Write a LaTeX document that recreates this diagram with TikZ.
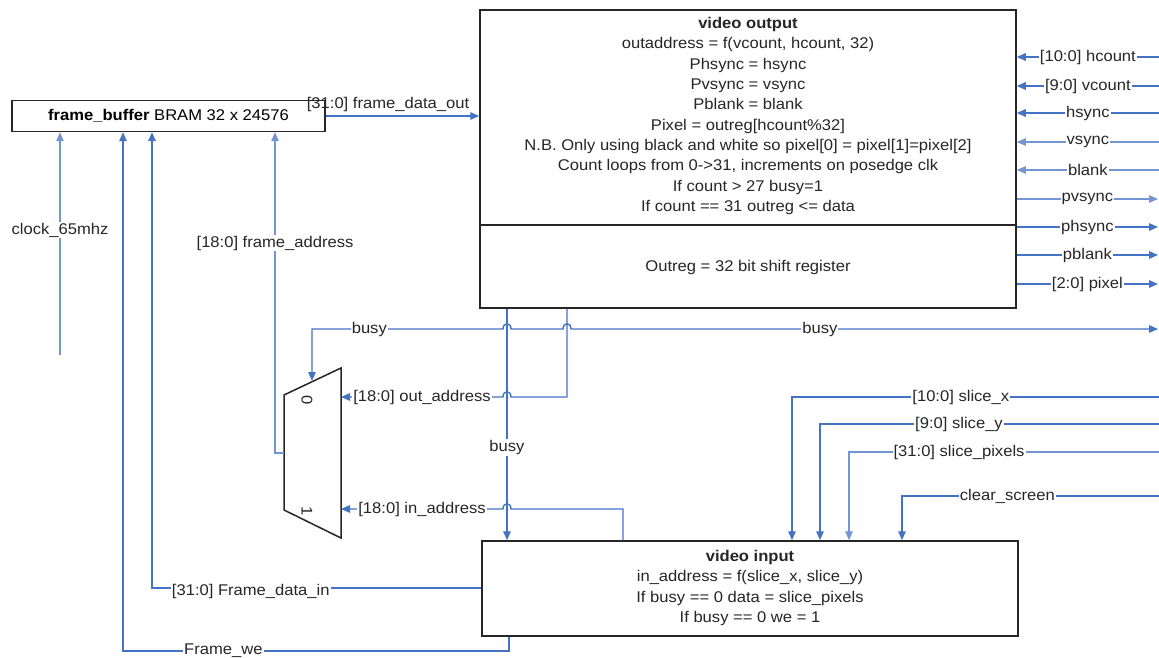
\documentclass[tikz,border=0pt]{standalone}
\usepackage{fontspec}
\setmainfont{Liberation Sans}[FakeStretch=1.07]
\usetikzlibrary{arrows.meta}
\definecolor{sigblue}{RGB}{68,114,196}
\begin{document}
\begin{tikzpicture}[x=1pt,y=-1pt,
  >={Triangle[length=9pt,width=7.5pt]},
  sig/.style={draw=sigblue,line width=1.4pt},
  light/.style={draw=sigblue!75,line width=1.1pt},
  blk/.style={draw=black!85,line width=1.5pt,fill=white,inner sep=0pt},
  lbl/.style={fill=white,inner sep=1pt,text=black!85,font=\fontsize{15.5}{18}\selectfont},
  txt/.style={align=center,inner sep=0pt,text=black!85,font=\fontsize{15.5}{20.3}\selectfont}]
\useasboundingbox (0,0) rectangle (1159,658);

% blocks
\node[blk,minimum width=313pt,minimum height=31pt,font=\fontsize{15.5}{18}\selectfont] (fb) at (168.5,116) {\textbf{frame\_buffer} BRAM 32 x 24576};
\node[blk,minimum width=536pt,minimum height=298pt] (vo) at (748,159) {};
\coordinate (divy) at (0,225);
\draw[draw=black!85,line width=1.5pt] (vo.west |- divy) -- (vo.east |- divy);
\node[txt] (vot) at (748,116) {\textbf{video output}\\outaddress = f(vcount, hcount, 32)\\Phsync = hsync\\Pvsync = vsync\\Pblank = blank\\Pixel = outreg[hcount\%32]\\N.B. Only using black and white so pixel[0] = pixel[1]=pixel[2]\\Count loops from 0->31, increments on posedge clk\\If count > 27 busy=1\\If count == 31 outreg <= data};
\node[txt] (vos) at (748,267) {Outreg = 32 bit shift register};

\node[blk,minimum width=536pt,minimum height=95pt] (vi) at (750,588.5) {};
\node[txt] (vit) at (750,588) {\textbf{video input}\\in\_address = f(slice\_x, slice\_y)\\If busy == 0 data = slice\_pixels\\If busy == 0 we = 1};

% mux
\coordinate (m1) at (284,395);
\coordinate (m2) at (341,368);
\coordinate (m3) at (341,538);
\coordinate (m4) at (284,510);
\draw[draw=black!85,line width=1.5pt,fill=white] (m1) -- (m2) -- (m3) -- (m4) -- cycle;
\node[txt,rotate=-90] (mz) at (307,400) {0};
\node[txt,rotate=-90] (mo) at (307,511) {1};
\coordinate (muxsel) at (312,381);
\coordinate (mux0in) at (341,397);
\coordinate (mux1in) at (341,509);
\coordinate (muxout) at (284,453);

% right-side inputs to video output
\coordinate (hcin) at (1159,57);
\coordinate (vcin) at (1159,86);
\coordinate (hsin) at (1159,113);
\coordinate (vsin) at (1159,142);
\coordinate (blin) at (1159,170);
\draw[sig,->] (hcin) -- node[lbl]{[10:0] hcount} (vo.east |- hcin);
\draw[sig,->] (vcin) -- node[lbl]{[9:0] vcount} (vo.east |- vcin);
\draw[sig,->] (hsin) -- node[lbl]{hsync} (vo.east |- hsin);
\draw[light,->] (vsin) -- node[lbl]{vsync} (vo.east |- vsin);
\draw[light,->] (blin) -- node[lbl]{blank} (vo.east |- blin);

% right-side outputs
\coordinate (pvout) at (1158,199);
\coordinate (phout) at (1158,227);
\coordinate (pbout) at (1158,255);
\coordinate (pxout) at (1158,284);
\draw[light,->] (vo.east |- pvout) -- node[lbl]{pvsync} (pvout);
\draw[sig,->] (vo.east |- phout) -- node[lbl]{phsync} (phout);
\draw[sig,->] (vo.east |- pbout) -- node[lbl]{pblank} (pbout);
\draw[sig,->] (vo.east |- pxout) -- node[lbl]{[2:0] pixel} (pxout);

% frame_data_out
\draw[sig,->] (fb.east) -- (vo.west |- fb.east);
\node[lbl,fill=none] (fdo) at (388,104) {[31:0] frame\_data\_out};

% busy line with hops
\coordinate (busyR) at (1158,329);
\draw[sig,<->] (muxsel) -- (312,329) -- node[lbl,pos=0.3]{busy} (503,329)
  .. controls (503,322) and (511,322) .. (511,329) -- (563,329)
  .. controls (563,322) and (571,322) .. (571,329) -- node[lbl,pos=0.424]{busy} (busyR);

% busy down to video input
\coordinate (bx) at (507,0);
\draw[sig,->] (vo.south -| bx) -- node[lbl,pos=0.6]{busy} (vi.north -| bx);

% out_address
\coordinate (oax) at (567,0);
\draw[sig,->] (vo.south -| oax) -- (567,397) -- (511,397)
  .. controls (511,390) and (503,390) .. (503,397) -- node[lbl]{[18:0] out\_address} (mux0in);

% in_address
\coordinate (iax) at (623,0);
\draw[sig,->] (vi.north -| iax) -- (623,509) -- (511,509)
  .. controls (511,502) and (503,502) .. (503,509) -- node[lbl]{[18:0] in\_address} (mux1in);

% frame_address
\coordinate (fax) at (275,0);
\draw[light,->] (muxout) -- (275,453) -- node[lbl,pos=0.654]{[18:0] frame\_address} (fb.south -| fax);

% clock
\coordinate (clk) at (60,355);
\draw[light,->] (clk) -- node[lbl,pos=0.56]{clock\_65mhz} (fb.south -| clk);

% Frame_data_in
\coordinate (fdiy) at (0,588);
\coordinate (fdix) at (152,0);
\draw[sig,->] (vi.west |- fdiy) -- node[lbl,pos=0.7,yshift=-3pt]{[31:0] Frame\_data\_in} (152,588) -- (fb.south -| fdix);

% Frame_we
\coordinate (fwex) at (509,0);
\coordinate (fwlx) at (123,0);
\draw[sig,->] (vi.south -| fwex) -- (509,651) -- node[lbl,pos=0.74]{Frame\_we} (123,651) -- (fb.south -| fwlx);

% slice inputs
\coordinate (sxin) at (1159,397);
\coordinate (syin) at (1159,424);
\coordinate (spin) at (1159,452);
\coordinate (csin) at (1159,496);
\coordinate (sxx) at (792,0);
\coordinate (syx) at (820,0);
\coordinate (spx) at (849,0);
\coordinate (csx) at (902,0);
\draw[sig,->] (sxin) -- node[lbl,pos=0.54]{[10:0] slice\_x} (792,397) -- (vi.north -| sxx);
\draw[sig,->] (syin) -- node[lbl,pos=0.59]{[9:0] slice\_y} (820,424) -- (vi.north -| syx);
\draw[light,->] (spin) -- node[lbl,pos=0.645]{[31:0] slice\_pixels} (849,452) -- (vi.north -| spx);
\draw[sig,->] (csin) -- node[lbl,pos=0.59]{clear\_screen} (902,496) -- (vi.north -| csx);
\end{tikzpicture}
\end{document}
